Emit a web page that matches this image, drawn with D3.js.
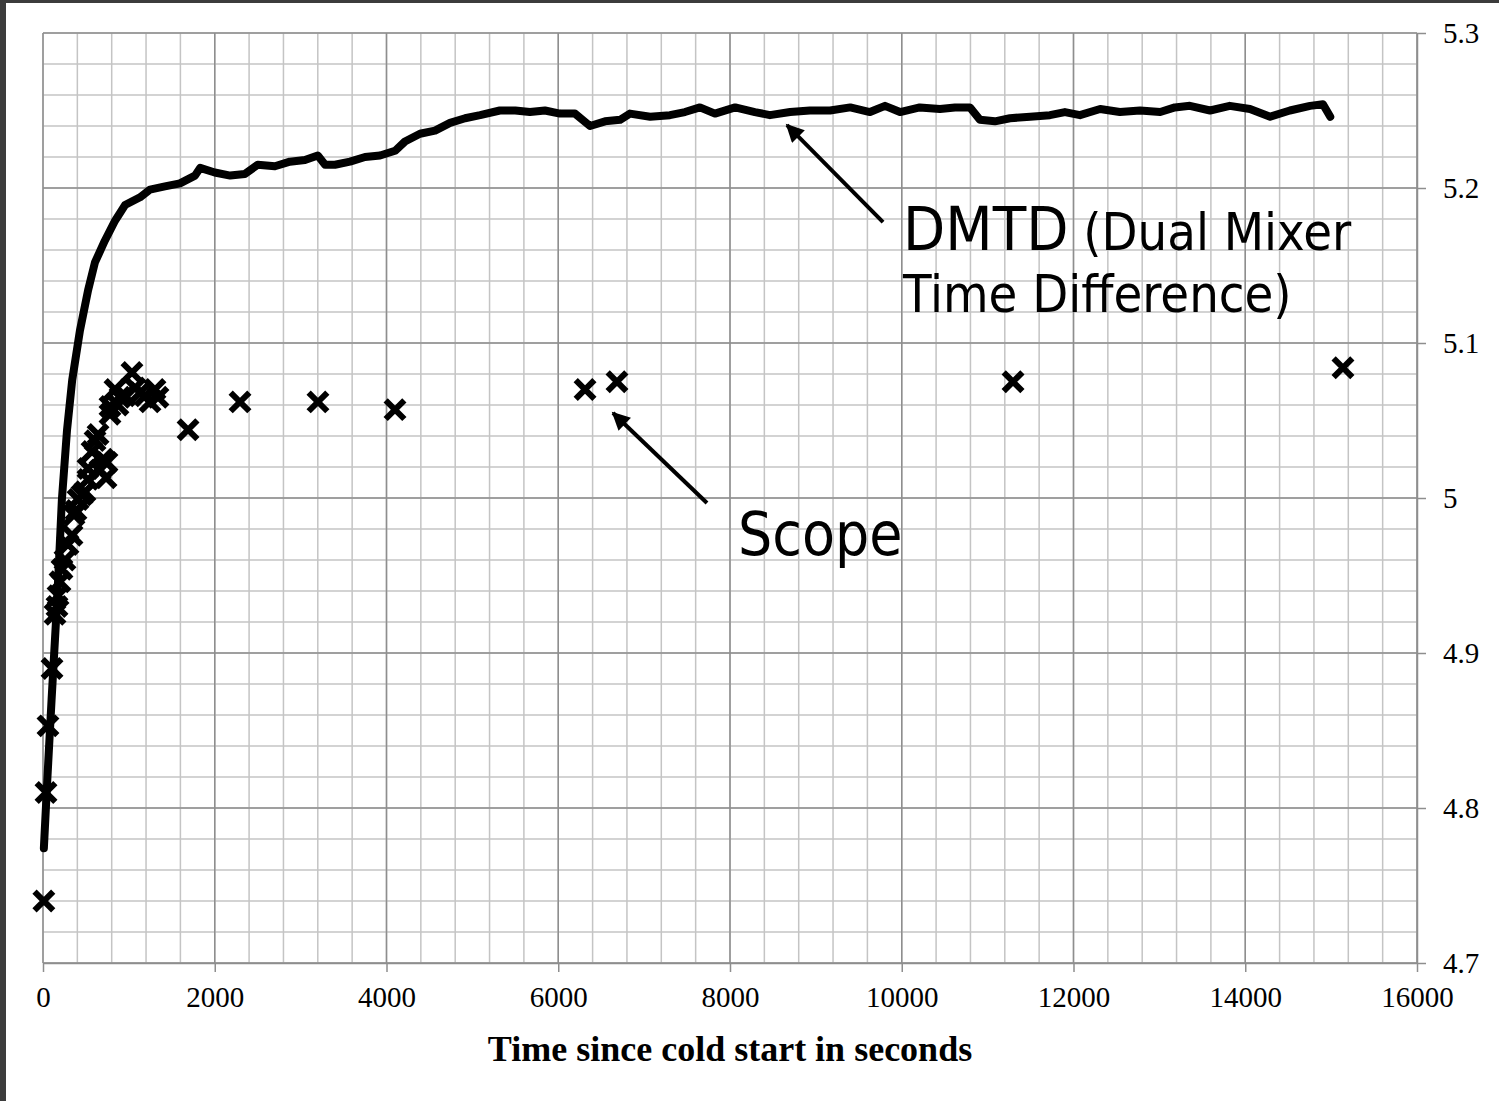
<!DOCTYPE html>
<html>
<head>
<meta charset="utf-8">
<script src="https://cdn.jsdelivr.net/npm/d3@7"></script>
<style>
  html, body { margin: 0; padding: 0; background: #3c3c3c; }
  svg { display: block; }
</style>
</head>
<body>
<div id="chart"></div>
<script>
// DMTD trace: seconds since cold start, measured value
const dmtdTime = [10, 50, 100, 165, 220, 280, 340, 430, 525, 605, 720, 840, 955, 1130, 1245, 1420, 1595, 1770, 1830, 2000,
  2180, 2350, 2500, 2700, 2875, 3050, 3200, 3285, 3400, 3575, 3750, 3925, 4100, 4215, 4390, 4565, 4740, 4915, 5090, 5320,
  5500, 5670, 5845, 6020, 6195, 6370, 6545, 6720, 6835, 7070, 7300, 7475, 7650, 7825, 8060, 8290, 8465, 8700, 8930, 9165,
  9400, 9630, 9805, 9980, 10210, 10445, 10620, 10795, 10910, 11085, 11260, 11495, 11725, 11900, 12075, 12310, 12540, 12775, 13010, 13180,
  13355, 13590, 13820, 14055, 14290, 14520, 14755, 14905, 14990]
const dmtdValue = [4.774, 4.818, 4.870, 4.934, 4.999, 5.044, 5.076, 5.108, 5.134, 5.152, 5.166, 5.179, 5.189, 5.194, 5.199, 5.201, 5.203, 5.208, 5.213, 5.210,
  5.208, 5.209, 5.215, 5.214, 5.217, 5.218, 5.221, 5.215, 5.215, 5.217, 5.220, 5.221, 5.224, 5.230, 5.235, 5.237, 5.242, 5.245, 5.247, 5.250,
  5.250, 5.249, 5.250, 5.248, 5.248, 5.240, 5.243, 5.244, 5.248, 5.246, 5.247, 5.249, 5.252, 5.248, 5.252, 5.249, 5.247, 5.249, 5.250, 5.250,
  5.252, 5.249, 5.253, 5.249, 5.252, 5.251, 5.252, 5.252, 5.244, 5.243, 5.245, 5.246, 5.247, 5.249, 5.247, 5.251, 5.249, 5.250, 5.249, 5.252,
  5.253, 5.250, 5.253, 5.251, 5.246, 5.250, 5.253, 5.254, 5.246]

// Scope readings
const scopeTime = [10, 35, 58, 105, 140, 163, 175, 198, 221, 256, 291, 338, 361, 384, 408, 454, 489, 524, 524, 571,
  606, 641, 664, 699, 734, 745, 780, 780, 838, 873, 897, 955, 1036, 1071, 1130, 1188, 1246, 1304, 1339, 1689,
  2294, 3202, 4099, 6312, 6684, 11296, 15138]
const scopeValue = [4.740, 4.810, 4.853, 4.890, 4.925, 4.930, 4.937, 4.946, 4.954, 4.960, 4.970, 4.976, 4.989, 4.992, 4.999, 5.002, 5.004, 5.012, 5.019, 5.030,
  5.037, 5.041, 5.018, 5.025, 5.013, 5.023, 5.054, 5.059, 5.070, 5.060, 5.065, 5.066, 5.081, 5.071, 5.068, 5.066, 5.062, 5.070, 5.065, 5.044,
  5.062, 5.062, 5.057, 5.070, 5.075, 5.075, 5.084]

const xTicks = [0, 2000, 4000, 6000, 8000, 10000, 12000, 14000, 16000]
const yTicks = [4.7, 4.8, 4.9, 5.0, 5.1, 5.2, 5.3]
const xTitle = "Time since cold start in seconds"

const width = 1499
const height = 1101
const plotLeft = 43
const plotRight = 1417
const plotTop = 33
const plotBottom = 963

const minorColor = "#c4c4c4"
const majorColor = "#8e8e8e"

const x = d3.scaleLinear().domain([0, 16000]).range([plotLeft, plotRight])
const y = d3.scaleLinear().domain([4.7, 5.3]).range([plotBottom, plotTop])

const svg = d3.select("#chart")
  .append("svg")
  .attr("width", width)
  .attr("height", height)

// White page inside the dark frame
svg.append("rect")
  .attr("x", 6)
  .attr("y", 3)
  .attr("width", width - 6)
  .attr("height", height - 3)
  .attr("fill", "#ffffff")

// Minor grid: every 400 s and every 0.02
const xMinor = d3.range(0, 41).map(i => i * 400)
const yMinor = d3.range(0, 31).map(i => 4.7 + i * 0.02)

const grid = svg.append("g")
grid.selectAll(".vminor")
  .data(xMinor)
  .enter()
  .append("line")
  .attr("x1", d => x(d)).attr("x2", d => x(d))
  .attr("y1", plotTop).attr("y2", plotBottom)
  .attr("stroke", minorColor)
  .attr("stroke-width", 1.5)
grid.selectAll(".hminor")
  .data(yMinor)
  .enter()
  .append("line")
  .attr("x1", plotLeft).attr("x2", plotRight)
  .attr("y1", d => y(d)).attr("y2", d => y(d))
  .attr("stroke", minorColor)
  .attr("stroke-width", 1.5)

// Major grid
grid.selectAll(".vmajor")
  .data(xTicks)
  .enter()
  .append("line")
  .attr("x1", d => x(d)).attr("x2", d => x(d))
  .attr("y1", plotTop).attr("y2", plotBottom)
  .attr("stroke", majorColor)
  .attr("stroke-width", 1.5)
grid.selectAll(".hmajor")
  .data(yTicks)
  .enter()
  .append("line")
  .attr("x1", plotLeft).attr("x2", plotRight)
  .attr("y1", d => y(d)).attr("y2", d => y(d))
  .attr("stroke", majorColor)
  .attr("stroke-width", 1.5)

// Axes
const xAxis = svg.append("g")
  .attr("transform", `translate(0,${plotBottom})`)
  .call(d3.axisBottom(x).tickValues(xTicks).tickSize(9).tickSizeOuter(0).tickPadding(14).tickFormat(d3.format("d")))
const yAxis = svg.append("g")
  .attr("transform", `translate(${plotRight},0)`)
  .call(d3.axisRight(y).tickValues(yTicks).tickSize(9).tickSizeOuter(0).tickPadding(17).tickFormat(d3.format("~g")))

for (const ax of [xAxis, yAxis]) {
  ax.select(".domain").attr("stroke", majorColor).attr("stroke-width", 1.5)
  ax.selectAll(".tick line").attr("stroke", majorColor).attr("stroke-width", 1.5)
  ax.selectAll(".tick text")
    .attr("fill", "#000")
    .style("font-family", "'Liberation Serif', 'Times New Roman', serif")
    .style("font-size", "29px")
}

svg.append("text")
  .attr("x", (plotLeft + plotRight) / 2)
  .attr("y", 1061)
  .attr("text-anchor", "middle")
  .style("font-family", "'Liberation Serif', 'Times New Roman', serif")
  .style("font-size", "36px")
  .style("font-weight", "700")
  .text(xTitle)

// DMTD line
const dmtd = dmtdTime.map((t, i) => [t, dmtdValue[i]])
svg.append("path")
  .datum(dmtd)
  .attr("fill", "none")
  .attr("stroke", "#000")
  .attr("stroke-width", 8)
  .attr("stroke-linejoin", "round")
  .attr("stroke-linecap", "round")
  .attr("d", d3.line().x(d => x(d[0])).y(d => y(d[1])))

// Scope markers
const scope = scopeTime.map((t, i) => [t, scopeValue[i]])
svg.selectAll(".scope")
  .data(scope)
  .enter()
  .append("path")
  .attr("class", "scope")
  .attr("transform", d => `translate(${x(d[0])},${y(d[1])})`)
  .attr("d", d3.symbol(d3.symbolX, 230))
  .attr("fill", "none")
  .attr("stroke", "#000")
  .attr("stroke-width", 6)

// Annotations
const defs = svg.append("defs")
defs.append("marker")
  .attr("id", "head")
  .attr("viewBox", "0 0 10 10")
  .attr("refX", 9)
  .attr("refY", 5)
  .attr("markerUnits", "userSpaceOnUse")
  .attr("markerWidth", 22)
  .attr("markerHeight", 18)
  .attr("orient", "auto")
  .append("path")
  .attr("d", "M0,0L10,5L0,10z")
  .attr("fill", "#000")

const arrows = [
  { from: [9782, 5.178], to: [8664, 5.2406] },
  { from: [7732, 4.9968], to: [6638, 5.0548] }
]
svg.selectAll(".arrow")
  .data(arrows)
  .enter()
  .append("line")
  .attr("x1", d => x(d.from[0])).attr("y1", d => y(d.from[1]))
  .attr("x2", d => x(d.to[0])).attr("y2", d => y(d.to[1]))
  .attr("stroke", "#000")
  .attr("stroke-width", 4)
  .attr("marker-end", "url(#head)")

const annoFont = "'DejaVu Sans Condensed', 'DejaVu Sans', Verdana, sans-serif"
const dmtdLabel = svg.append("text")
  .attr("x", x(10015))
  .attr("y", y(5.160))
  .style("font-family", annoFont)
  .style("font-stretch", "condensed")
  .attr("fill", "#000")
dmtdLabel.append("tspan").style("font-size", "61px").text("DMTD")
dmtdLabel.append("tspan").style("font-size", "52px").text(" (Dual Mixer")
svg.append("text")
  .attr("x", x(10015))
  .attr("y", y(5.120))
  .style("font-family", annoFont)
  .style("font-stretch", "condensed")
  .style("font-size", "52px")
  .attr("fill", "#000")
  .text("Time Difference)")
svg.append("text")
  .attr("x", x(8093))
  .attr("y", y(4.963))
  .style("font-family", annoFont)
  .style("font-stretch", "condensed")
  .style("font-size", "60px")
  .attr("fill", "#000")
  .text("Scope")
</script>
</body>
</html>
